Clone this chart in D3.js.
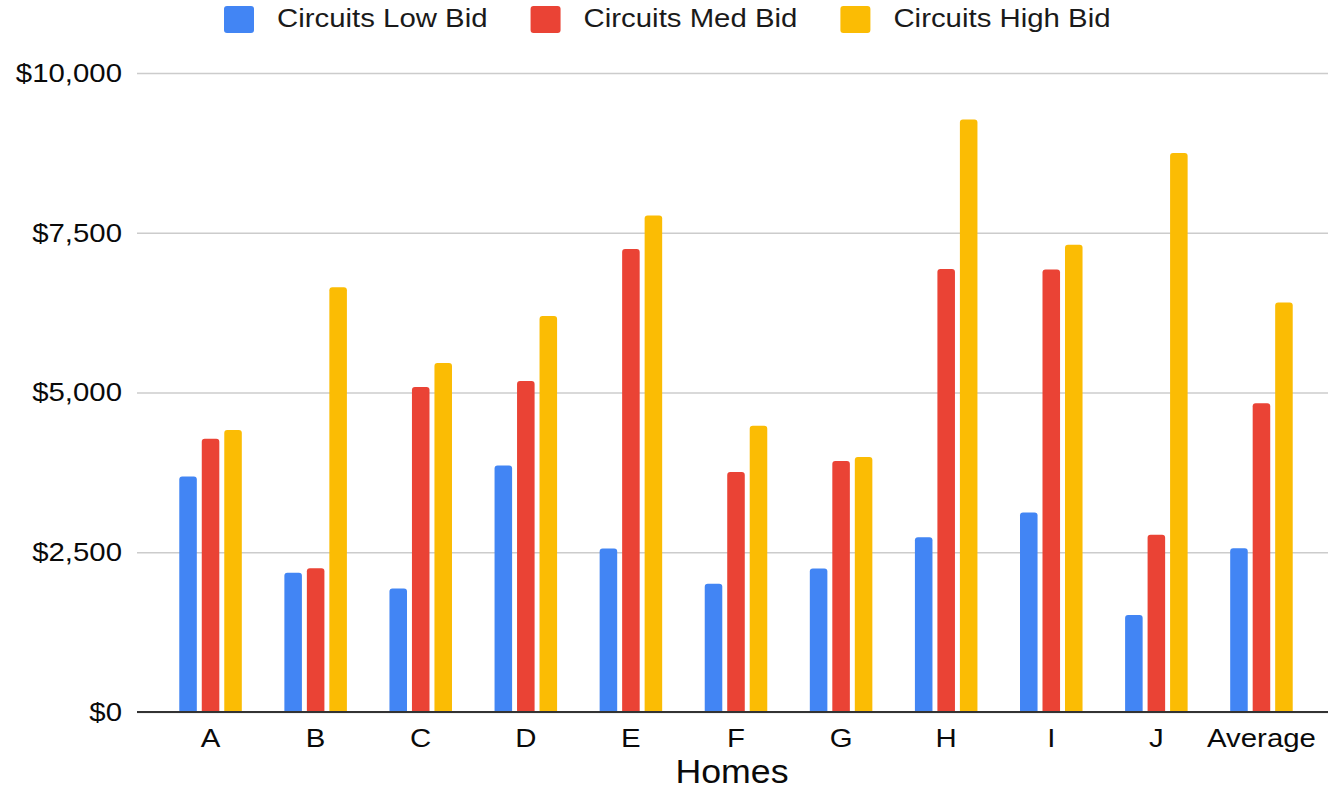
<!DOCTYPE html>
<html>
<head>
<meta charset="utf-8">
<script src="https://cdn.jsdelivr.net/npm/d3@7"></script>
<style>
  html, body { margin: 0; padding: 0; background: #fff; }
  svg { display: block; font-family: Arial, "Liberation Sans", Helvetica, sans-serif; }
</style>
</head>
<body>
<svg id="chart" width="1328" height="791"></svg>
<script>
// Homes and the circuit bids for each one
const homes = ["A", "B", "C", "D", "E", "F", "G", "H", "I", "J", "Average"];
const seriesNames = ["Circuits Low Bid", "Circuits Med Bid", "Circuits High Bid"];
const lowBid  = [3684, 2178, 1933, 3856, 2558, 2006, 2245, 2736, 3121, 1517, 2564];
const medBid  = [4278, 2251, 5086, 5180, 7244, 3756, 3928, 6931, 6926, 2772, 4831];
const highBid = [4414, 6649, 5462, 6196, 7771, 4481, 3991, 9271, 7311, 8749, 6410];
const yTicks = [0, 2500, 5000, 7500, 10000];
const xTitle = "Homes";

const colors = ["#4285F4", "#EA4335", "#FBBC04"];
const series = [lowBid, medBid, highBid];
const textStretch = 1.13;

const svg = d3.select("#chart");
const gridLeft = 137, gridRight = 1328;
const plotTop = 73, plotBottom = 712;

const x = d3.scaleBand()
  .domain(homes)
  .range([158, 1314])
  .paddingInner(0.405)
  .paddingOuter(0.2025);

const xInner = d3.scaleBand()
  .domain(d3.range(series.length))
  .range([0, x.bandwidth()])
  .paddingInner(0.22);

const y = d3.scaleLinear().domain([0, 10000]).range([plotBottom, plotTop]);

// Y axis with gridlines
const fmt = v => "$" + d3.format(",")(v);
const yAxis = svg.append("g")
  .attr("transform", `translate(${gridLeft},0)`)
  .call(d3.axisLeft(y).tickValues(yTicks).tickFormat(fmt)
    .tickSize(-(gridRight - gridLeft)).tickPadding(15));
yAxis.select(".domain").remove();
yAxis.selectAll(".tick line")
  .attr("stroke", "#cccccc")
  .attr("stroke-width", 1.6);
yAxis.selectAll(".tick text")
  .attr("x", -15 / textStretch)
  .attr("transform", `scale(${textStretch},1)`)
  .attr("fill", "#0a0a0a")
  .style("font-size", "26px");

// Bars with rounded tops
function roundedTop(x0, y0, w, h, r) {
  r = Math.min(r, w / 2, h);
  return `M${x0},${y0 + h}V${y0 + r}Q${x0},${y0} ${x0 + r},${y0}` +
         `H${x0 + w - r}Q${x0 + w},${y0} ${x0 + w},${y0 + r}V${y0 + h}Z`;
}

const groups = svg.append("g").selectAll("g")
  .data(homes)
  .join("g")
  .attr("transform", d => `translate(${x(d)},0)`);

groups.selectAll("path")
  .data((d, i) => series.map((s, k) => ({ k, v: s[i] })))
  .join("path")
  .attr("fill", d => colors[d.k])
  .attr("d", d => roundedTop(xInner(d.k), y(d.v), xInner.bandwidth(), y(0) - y(d.v), 3));

// Baseline and category labels
svg.append("line")
  .attr("x1", gridLeft).attr("x2", gridRight)
  .attr("y1", y(0)).attr("y2", y(0))
  .attr("stroke", "#333").attr("stroke-width", 2);

const xAxis = svg.append("g")
  .attr("transform", `translate(0,${plotBottom})`)
  .call(d3.axisBottom(x).tickSize(0).tickPadding(16.5));
xAxis.select(".domain").remove();
xAxis.selectAll(".tick text")
  .attr("transform", `scale(${textStretch},1)`)
  .attr("fill", "#0a0a0a")
  .style("font-size", "26px");

// Axis title
svg.append("text")
  .attr("transform", `translate(732,783) scale(1.05,1)`)
  .attr("text-anchor", "middle")
  .attr("fill", "#0a0a0a")
  .style("font-size", "34px")
  .text(xTitle);

// Legend
const legend = svg.append("g");
let lx = 224;
seriesNames.forEach((name, k) => {
  legend.append("rect")
    .attr("x", lx).attr("y", 6)
    .attr("width", 30).attr("height", 27)
    .attr("rx", 3)
    .attr("fill", colors[k]);
  const t = legend.append("text")
    .attr("transform", `translate(${lx + 53},27) scale(${textStretch},1)`)
    .attr("fill", "#1a1a1a")
    .style("font-size", "26px")
    .text(name);
  const tw = t.node().getComputedTextLength() * textStretch;
  lx = lx + 53 + tw + 43;
});
</script>
</body>
</html>
